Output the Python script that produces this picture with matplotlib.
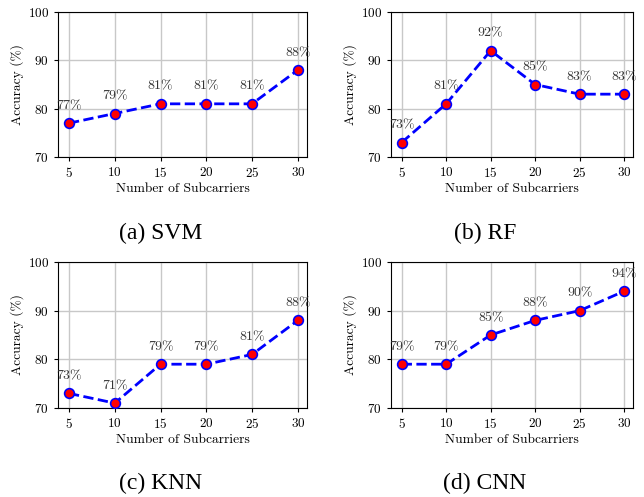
import matplotlib
matplotlib.use('Agg')
import matplotlib.pyplot as plt

# number of subcarriers used for each run
subcarriers = [5, 10, 15, 20, 25, 30]

# accuracy (%) per classifier
svm_acc = [77, 79, 81, 81, 81, 88]
rf_acc = [73, 81, 92, 85, 83, 83]
knn_acc = [73, 71, 79, 79, 81, 88]
cnn_acc = [79, 79, 85, 88, 90, 94]

captions = ['(a) SVM', '(b) RF', '(c) KNN', '(d) CNN']

plt.rcParams['font.family'] = 'cmr10'
plt.rcParams['axes.formatter.use_mathtext'] = True
plt.rcParams['mathtext.fontset'] = 'cm'


def plot_panel(ax, x, y):
    ax.plot(x, y, linestyle='--', color='blue', linewidth=2,
            marker='o', markersize=7, markerfacecolor='red',
            markeredgecolor='blue', markeredgewidth=1.2, zorder=3)
    for xi, yi in zip(x, y):
        ax.annotate(f'{yi}%', (xi, yi), xytext=(0, 8), textcoords='offset points',
                    ha='center', va='bottom', fontsize=10, color='#333333')
    ax.set_xlim(3.8, 31)
    ax.set_ylim(70, 100)
    ax.set_xticks(x)
    ax.set_yticks([70, 80, 90, 100])
    ax.tick_params(labelsize=9.5, length=3)
    ax.set_xlabel('Number of Subcarriers', fontsize=9.7, labelpad=2)
    ax.set_ylabel('Accuracy (%)', fontsize=9.7, labelpad=3)
    ax.grid(True, color='#c8c8c8', linewidth=1)
    ax.set_axisbelow(True)


fig = plt.figure(figsize=(6.44, 4.97), dpi=100)
W, H = 644, 497
boxes = [(58, 12, 307, 157), (391, 12, 633, 157),
         (58, 262, 307, 408), (391, 262, 633, 408)]
caption_pos = [(161, 233), (485, 233), (161, 483), (485, 483)]
data = [svm_acc, rf_acc, knn_acc, cnn_acc]

for (l, t, r, b), acc, cap, (cx, cy) in zip(boxes, data, captions, caption_pos):
    ax = fig.add_axes([l / W, 1 - b / H, (r - l) / W, (b - t) / H])
    plot_panel(ax, subcarriers, acc)
    fig.text(cx / W, 1 - cy / H, cap, ha='center', va='center',
             fontsize=17, family='Liberation Serif')

fig.savefig('out.png', dpi=100)
